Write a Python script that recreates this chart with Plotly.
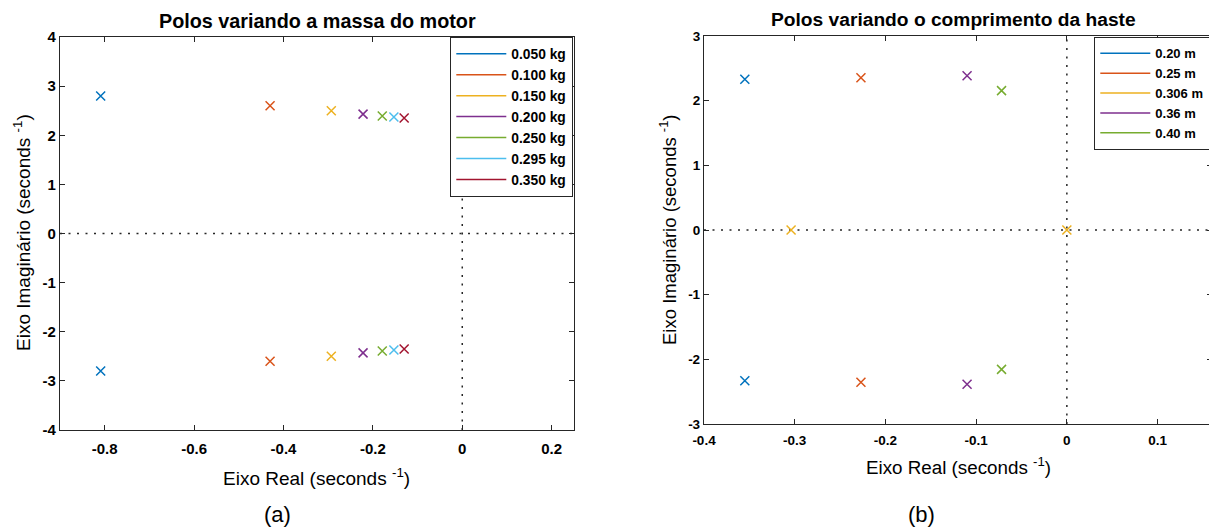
import plotly.graph_objects as go

# ---------------- data ----------------
# (a) poles varying motor mass
massas = ["0.050 kg", "0.100 kg", "0.150 kg", "0.200 kg", "0.250 kg", "0.295 kg", "0.350 kg"]
real_a = [-0.809, -0.430, -0.293, -0.222, -0.179, -0.153, -0.130]
imag_a_pos = [2.80, 2.60, 2.50, 2.43, 2.39, 2.37, 2.35]
imag_a_neg = [-2.80, -2.60, -2.50, -2.43, -2.39, -2.37, -2.35]

# (b) poles varying rod length (each series: list of poles)
comprimentos = ["0.20 m", "0.25 m", "0.306 m", "0.36 m", "0.40 m"]
real_b = [[-0.355, -0.355], [-0.227, -0.227], [-0.304, 0.0], [-0.110, -0.110], [-0.072, -0.072]]
imag_b = [[2.33, -2.33], [2.355, -2.355], [0.0, 0.0], [2.385, -2.385], [2.155, -2.155]]

# tick values / labels
xticks_a = [-0.8, -0.6, -0.4, -0.2, 0, 0.2]
xlabels_a = ["-0.8", "-0.6", "-0.4", "-0.2", "0", "0.2"]
yticks_a = [-4, -3, -2, -1, 0, 1, 2, 3, 4]
ylabels_a = ["-4", "-3", "-2", "-1", "0", "1", "2", "3", "4"]
xticks_b = [-0.4, -0.3, -0.2, -0.1, 0, 0.1]
xlabels_b = ["-0.4", "-0.3", "-0.2", "-0.1", "0", "0.1"]
yticks_b = [-3, -2, -1, 0, 1, 2, 3]
ylabels_b = ["-3", "-2", "-1", "0", "1", "2", "3"]

cores = ["#0072BD", "#D95319", "#EDB120", "#7E2F8E", "#77AC30", "#4DBEEE", "#A2142F"]

FONT = "Arial, Liberation Sans, sans-serif"
WIN_W, WIN_H = 1217, 529
OFF = 8  # page body margin
W, H = WIN_W - OFF, WIN_H - OFF

fig = go.Figure()

def px_x(p):
    return (p - OFF) / W

def px_y(p):
    return 1 - (p - OFF) / H

# ---- left plot traces ----
for i, nome in enumerate(massas):
    fig.add_trace(go.Scatter(
        x=[real_a[i], real_a[i]], y=[imag_a_pos[i], imag_a_neg[i]],
        mode="markers", xaxis="x", yaxis="y", showlegend=False,
        marker=dict(symbol="x-thin", size=9, color=cores[i],
                    line=dict(width=1.5, color=cores[i])),
        hoverinfo="x+y"))
    fig.add_trace(go.Scatter(
        x=[None], y=[None], mode="lines", name=nome, xaxis="x", yaxis="y",
        line=dict(color=cores[i], width=1.5), legend="legend"))

# ---- right plot traces ----
for i, nome in enumerate(comprimentos):
    fig.add_trace(go.Scatter(
        x=real_b[i], y=imag_b[i],
        mode="markers", xaxis="x2", yaxis="y2", showlegend=False,
        marker=dict(symbol="x-thin", size=9, color=cores[i],
                    line=dict(width=1.5, color=cores[i])),
        hoverinfo="x+y"))
    fig.add_trace(go.Scatter(
        x=[None], y=[None], mode="lines", name=nome, xaxis="x2", yaxis="y2",
        line=dict(color=cores[i], width=1.5), legend="legend2"))

axcol = "#262626"
common = dict(showgrid=False, zeroline=False, showline=True, linecolor=axcol,
              linewidth=1.3, mirror="ticks", ticks="inside", ticklen=5,
              tickcolor=axcol, tickwidth=1.3, automargin=False, tickmode="array")

# left axes geometry (pixels): x 60..574, y 37..430
# right axes geometry (pixels): x 704..1212, y 36..424
fig.update_layout(
    template="none",
    width=W, height=H, autosize=False,
    margin=dict(l=0, r=0, t=0, b=0, pad=0),
    paper_bgcolor="white", plot_bgcolor="white",
    font=dict(family=FONT, color="black"),
    xaxis=dict(domain=[px_x(60), px_x(574)], range=[-0.9, 0.25],
               tickvals=xticks_a, ticktext=xlabels_a, anchor="y", ticklabelstandoff=5,
               tickfont=dict(size=15, family=FONT, color="black", weight="bold"), **common),
    yaxis=dict(domain=[px_y(430), px_y(37)], range=[-4, 4],
               tickvals=yticks_a, ticktext=ylabels_a, anchor="x",
               tickfont=dict(size=15, family=FONT, color="black", weight="bold"), **common),
    xaxis2=dict(domain=[px_x(704), px_x(1212)], range=[-0.4, 0.16],
                tickvals=xticks_b, ticktext=xlabels_b, anchor="y2", ticklabelstandoff=4,
                tickfont=dict(size=13.5, family=FONT, color="black", weight="bold"), **common),
    yaxis2=dict(domain=[px_y(424), px_y(36)], range=[-3, 3],
                tickvals=yticks_b, ticktext=ylabels_b, anchor="x2",
                tickfont=dict(size=13.5, family=FONT, color="black", weight="bold"), **common),
    legend=dict(x=px_x(573), y=px_y(37), xanchor="right", yanchor="top",
                bgcolor="white", bordercolor=axcol, borderwidth=1.3,
                font=dict(size=13.8, family=FONT, color="black", weight="bold"),
                tracegroupgap=0, itemwidth=50),
    legend2=dict(x=px_x(1210), y=px_y(37), xanchor="right", yanchor="top",
                 bgcolor="white", bordercolor=axcol, borderwidth=1.3,
                 font=dict(size=13, family=FONT, color="black", weight="bold"),
                 tracegroupgap=0, itemwidth=50),
)

# dotted reference lines at real = 0 and imag = 0
for xr, yr in (("x", "y"), ("x2", "y2")):
    fig.add_shape(type="line", xref=xr, yref=yr + " domain", x0=0, x1=0, y0=0, y1=1,
                  line=dict(color=axcol, width=1.5, dash="2px,6.5px"), layer="below")
    fig.add_shape(type="line", xref=xr + " domain", yref=yr, x0=0, x1=1, y0=0, y1=0,
                  line=dict(color=axcol, width=1.5, dash="2px,6.5px"), layer="below")

ann = []
# titles
ann.append(dict(text="<b>Polos variando a massa do motor</b>", x=px_x(317), y=px_y(21),
                font=dict(size=19.8)))
ann.append(dict(text="<b>Polos variando o comprimento da haste</b>", x=px_x(954), y=px_y(20),
                font=dict(size=19.2)))
# axis titles
ann.append(dict(text="Eixo Real (seconds <sup>-1</sup>)", x=px_x(316), y=px_y(477),
                font=dict(size=19)))
ann.append(dict(text="Eixo Real (seconds <sup>-1</sup>)", x=px_x(958), y=px_y(466),
                font=dict(size=18.8)))
ann.append(dict(text="Eixo Imaginário (seconds <sup>-1</sup>)", x=px_x(22), y=px_y(233),
                font=dict(size=19), textangle=-90))
ann.append(dict(text="Eixo Imaginário (seconds <sup>-1</sup>)", x=px_x(668), y=px_y(230),
                font=dict(size=18.5), textangle=-90))
# subfigure labels
ann.append(dict(text="(a)", x=px_x(277), y=px_y(514), font=dict(size=22)))
ann.append(dict(text="(b)", x=px_x(921), y=px_y(514), font=dict(size=22)))

for a in ann:
    a.update(xref="paper", yref="paper", showarrow=False, xanchor="center", yanchor="middle")
    a["font"].update(family=FONT, color="black")
    fig.add_annotation(**a)

fig.write_html("out.html")
